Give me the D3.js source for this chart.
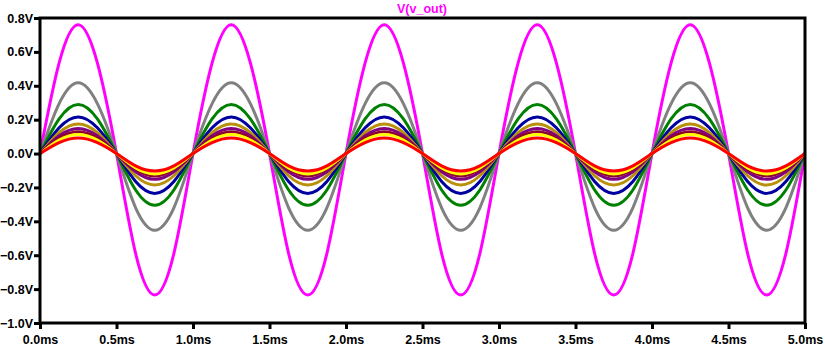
<!DOCTYPE html>
<html>
<head>
<meta charset="utf-8">
<script src="https://cdn.jsdelivr.net/npm/d3@7"></script>
<style>
  body { margin: 0; background: #fff; }
  text { font-family: "Liberation Sans", Arial, sans-serif; font-weight: bold; }
</style>
</head>
<body>
<script>
let cycleTimes = [0, 0.125, 0.25, 0.375, 0.5, 0.625, 0.75, 0.875];
let periods = [0, 1, 2, 3, 4];

let traceNames = ["magenta", "gray", "green", "blue", "gold", "purple", "maroon", "yellow", "red"];
let traceColors = ["#ff00ff", "#808080", "#008000", "#0000a0", "#b8900a", "#800080", "#900030", "#ffff00", "#ff0000"];
let cycleValues = [
  [0, 0.535, 0.76, 0.535, 0, -0.59, -0.835, -0.59],
  [0, 0.295, 0.418, 0.295, 0, -0.32, -0.452, -0.32],
  [0, 0.205, 0.29, 0.205, 0, -0.215, -0.305, -0.215],
  [0, 0.152, 0.216, 0.152, 0, -0.165, -0.235, -0.165],
  [0, 0.124, 0.175, 0.124, 0, -0.131, -0.186, -0.131],
  [0, 0.105, 0.148, 0.105, 0, -0.107, -0.152, -0.107],
  [0, 0.091, 0.128, 0.091, 0, -0.093, -0.132, -0.093],
  [0, 0.080, 0.112, 0.080, 0, -0.085, -0.12, -0.085],
  [0, 0.065, 0.092, 0.065, 0, -0.073, -0.103, -0.073]
];

let yTicks = [0.8, 0.6, 0.4, 0.2, 0.0, -0.2, -0.4, -0.6, -0.8, -1.0];
let xTicks = [0, 0.5, 1.0, 1.5, 2.0, 2.5, 3.0, 3.5, 4.0, 4.5, 5.0];

let width = 825, height = 349;
let plotL = 40, plotR = 805, plotT = 18, plotB = 323;

let svg = d3.select("body").append("svg")
  .attr("width", width)
  .attr("height", height);

let x = d3.scaleLinear().domain([0, 5]).range([plotL, plotR]);
let y = d3.scaleLinear().domain([-1.0, 0.8]).range([plotB, plotT]);

// build full traces: the same cycle repeats for each period, closing at 5 ms
let traces = cycleValues.map((vals, i) => {
  let pts = [];
  periods.forEach(p => {
    cycleTimes.forEach((t, j) => pts.push([p + t, vals[j]]));
  });
  pts.push([5, vals[0]]);
  return { name: traceNames[i], color: traceColors[i], pts: pts };
});

let line = d3.line()
  .x(d => x(d[0]))
  .y(d => y(d[1]))
  .curve(d3.curveNatural);

svg.append("defs").append("clipPath").attr("id", "clip")
  .append("rect")
  .attr("x", plotL).attr("y", plotT)
  .attr("width", plotR - plotL).attr("height", plotB - plotT);

svg.append("g")
  .attr("clip-path", "url(#clip)")
  .selectAll("path")
  .data(traces)
  .enter()
  .append("path")
  .attr("fill", "none")
  .attr("stroke", d => d.color)
  .attr("stroke-width", 3)
  .attr("stroke-linejoin", "round")
  .attr("d", d => line(d.pts));

// frame
svg.append("rect")
  .attr("x", plotL).attr("y", plotT)
  .attr("width", plotR - plotL).attr("height", plotB - plotT)
  .attr("fill", "none")
  .attr("stroke", "#000")
  .attr("stroke-width", 3);

// y axis
let yAxis = d3.axisLeft(y)
  .tickValues(yTicks)
  .tickSize(6)
  .tickPadding(1)
  .tickFormat(d => d3.format(".1f")(d) + "V");

svg.append("g")
  .attr("transform", "translate(" + plotL + ",0)")
  .call(yAxis)
  .call(g => g.select(".domain").remove())
  .call(g => g.selectAll("line").attr("stroke-width", 3))
  .call(g => g.selectAll("text")
    .attr("fill", "#000")
    .attr("font-size", 12.5)
    .attr("font-family", "'Liberation Sans', Arial, sans-serif")
    .attr("font-weight", "bold"));

// x axis
let xAxis = d3.axisBottom(x)
  .tickValues(xTicks)
  .tickSize(6)
  .tickPadding(6)
  .tickFormat(d => d3.format(".1f")(d) + "ms");

svg.append("g")
  .attr("transform", "translate(0," + plotB + ")")
  .call(xAxis)
  .call(g => g.select(".domain").remove())
  .call(g => g.selectAll("line").attr("stroke-width", 3))
  .call(g => g.selectAll("text")
    .attr("fill", "#000")
    .attr("font-size", 12.5)
    .attr("font-family", "'Liberation Sans', Arial, sans-serif")
    .attr("font-weight", "bold"));

// title
svg.append("text")
  .attr("x", 422)
  .attr("y", 13)
  .attr("text-anchor", "middle")
  .attr("font-size", 12.5)
  .attr("fill", "#ff00ff")
  .text("V(v_out)");
</script>
</body>
</html>
